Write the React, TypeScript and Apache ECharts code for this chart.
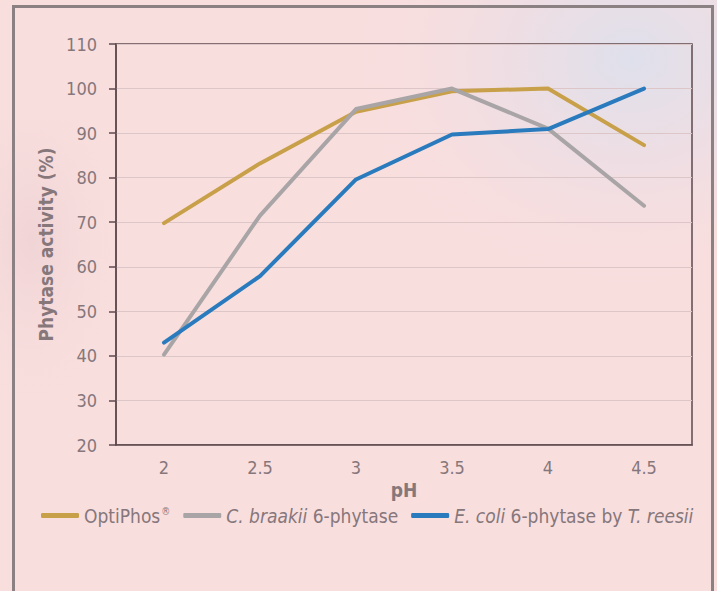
import React, { useEffect, useRef } from "react";
import * as echarts from "echarts";

const phCategories = ["2", "2.5", "3", "3.5", "4", "4.5"];
const optiPhos = [69.8, 83.2, 94.8, 99.4, 100, 87.3];
const cBraakii = [40.3, 71.5, 95.4, 100, 91.0, 73.7];
const eColi = [43.0, 57.9, 79.6, 89.7, 90.9, 100];
const yTicks = { min: 20, max: 110, interval: 10 };

const FONT = '"Liberation Sans Narrow", "DejaVu Sans Condensed", "Noto Sans", sans-serif';
const TICKFONT = '"DejaVu Sans Condensed", "Liberation Sans Narrow", sans-serif';
const TXT = "#86777b";
const AXIS = "#5e4a4e";

export default function App() {
  const ref = useRef<HTMLDivElement>(null);
  useEffect(() => {
    document.body.style.margin = "0";
    const chart = echarts.init(ref.current!, null, { renderer: "svg" });
    chart.setOption({
      animation: false,
      backgroundColor: "#f9dede",
      textStyle: { fontFamily: FONT },
      graphic: [
        {
          type: "rect",
          z: -10,
          silent: true,
          shape: { x: 0, y: 0, width: 717, height: 591 },
          style: {
            fill: new echarts.graphic.RadialGradient(0.88, 0.1, 0.4, [
              { offset: 0, color: "rgba(222,224,236,1)" },
              { offset: 0.5, color: "rgba(234,222,230,0.6)" },
              { offset: 1, color: "rgba(249,222,222,0)" },
            ]),
          },
        },
        {
          type: "rect",
          z: -9,
          silent: true,
          shape: { x: 0, y: 120, width: 160, height: 300 },
          style: {
            fill: new echarts.graphic.RadialGradient(0.2, 0.4, 0.6, [
              { offset: 0, color: "rgba(236,208,210,0.7)" },
              { offset: 1, color: "rgba(249,222,222,0)" },
            ]),
          },
        },
        {
          type: "rect",
          z: 10,
          silent: true,
          shape: { x: 13.5, y: 6.5, width: 699, height: 620 },
          style: { fill: "none", stroke: "#8b8183", lineWidth: 3 },
        },
      ],
      grid: {
        left: 116,
        right: 25,
        top: 44,
        bottom: 146,
        show: true,
        borderColor: AXIS,
        borderWidth: 1.5,
        backgroundColor: "transparent",
      },
      xAxis: {
        type: "category",
        data: phCategories,
        boundaryGap: true,
        name: "pH",
        nameLocation: "middle",
        nameGap: 26,
        nameTextStyle: { color: TXT, fontSize: 19, fontWeight: "bold", fontFamily: FONT },
        axisLine: { lineStyle: { color: AXIS, width: 1.5 } },
        axisTick: { alignWithLabel: true, length: 6, lineStyle: { color: AXIS, width: 1.5 } },
        axisLabel: { color: TXT, fontSize: 18, margin: 13, fontFamily: TICKFONT },
        splitLine: { show: false },
      },
      yAxis: {
        type: "value",
        min: yTicks.min,
        max: yTicks.max,
        interval: yTicks.interval,
        name: "Phytase activity (%)",
        nameLocation: "middle",
        nameRotate: 90,
        nameGap: 60,
        nameTextStyle: { color: TXT, fontSize: 19, fontWeight: "bold", fontFamily: FONT },
        axisLine: { show: true, lineStyle: { color: AXIS, width: 1.5 } },
        axisTick: { show: true, length: 7, lineStyle: { color: AXIS, width: 1.5 } },
        axisLabel: { color: TXT, fontSize: 18, margin: 19, fontFamily: TICKFONT },
        splitLine: { show: true, lineStyle: { color: "#dcc6c8", width: 1 } },
      },
      legend: {
        left: 36,
        top: 501,
        itemWidth: 38,
        itemHeight: 5,
        itemGap: 13,
        icon: "roundRect",
        textStyle: {
          color: TXT,
          fontSize: 19,
          fontFamily: FONT,
          rich: {
            n: { color: TXT, fontSize: 19, fontFamily: FONT },
            i: { color: TXT, fontSize: 19, fontStyle: "italic", fontFamily: FONT },
            s: { color: TXT, fontSize: 10, fontFamily: FONT, padding: [0, 0, 9, 1] },
          },
        },
        formatter: (name: string) => {
          if (name === "OptiPhos®") return "{n|OptiPhos}{s|®}";
          if (name === "C. braakii 6-phytase") return "{i|C. braakii}{n| 6-phytase}";
          return "{i|E. coli}{n| 6-phytase by }{i|T. reesii}";
        },
        data: ["OptiPhos®", "C. braakii 6-phytase", "E. coli 6-phytase by T. reesii"],
      },
      series: [
        {
          name: "OptiPhos®",
          type: "line",
          data: optiPhos,
          showSymbol: false,
          symbol: "none",
          color: "#c8a04a",
          lineStyle: { width: 4, color: "#c8a04a", cap: "round", join: "round" },
          z: 3,
        },
        {
          name: "C. braakii 6-phytase",
          type: "line",
          data: cBraakii,
          showSymbol: false,
          symbol: "none",
          color: "#a9a5a7",
          lineStyle: { width: 4, color: "#a9a5a7", cap: "round", join: "round" },
          z: 4,
        },
        {
          name: "E. coli 6-phytase by T. reesii",
          type: "line",
          data: eColi,
          showSymbol: false,
          symbol: "none",
          color: "#2a7bbd",
          lineStyle: { width: 4, color: "#2a7bbd", cap: "round", join: "round" },
          z: 5,
        },
      ],
    });
    return () => chart.dispose();
  }, []);
  return <div ref={ref} style={{ width: 717, height: 591 }} />;
}
